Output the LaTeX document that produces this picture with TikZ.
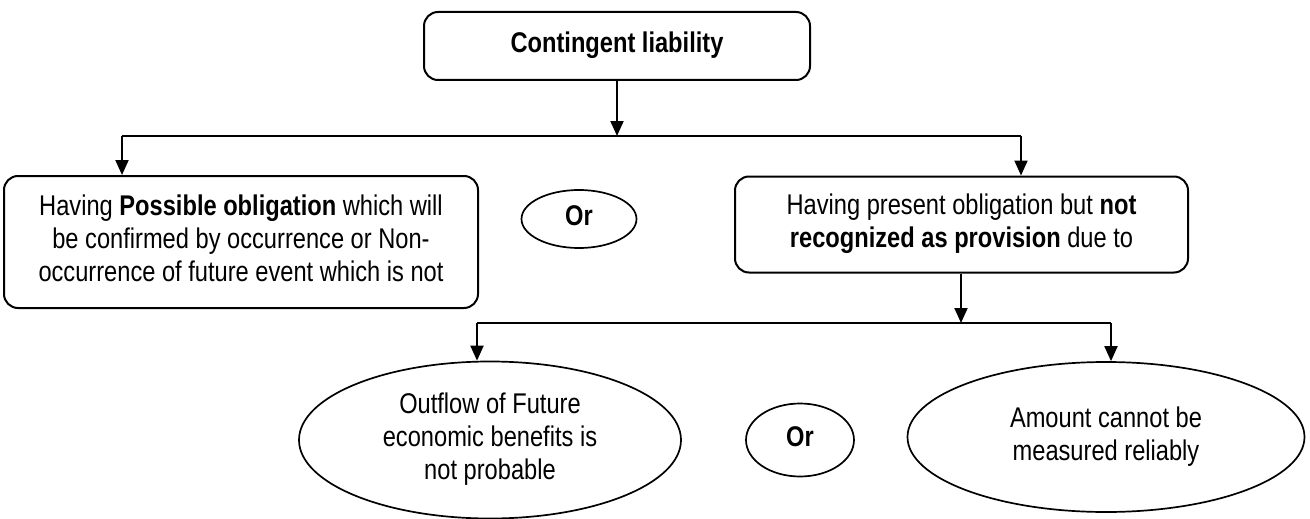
\documentclass[tikz,border=0pt]{standalone}
\usepackage{fontspec}
\usepackage{graphicx}
\setmainfont{Liberation Sans}
\usetikzlibrary{arrows.meta,shapes.geometric}
\newcommand\nartext[1]{\scalebox{0.83}[1]{\begin{tabular}{@{}c@{}}#1\end{tabular}}}
\begin{document}
\begin{tikzpicture}[x=1pt,y=-1pt,
  box/.style={draw,line width=2pt,rounded corners=14pt,align=center,inner sep=0pt},
  oval/.style={draw,ellipse,line width=1.7pt,align=center,inner sep=0pt},
  arr/.style={line width=2pt,-{Triangle[length=15pt,width=13pt]}},
  ln/.style={line width=2pt},
  every node/.style={font=\fontsize{28.5}{33.3}\selectfont}]
\useasboundingbox (0,0) rectangle (1310,519);
\node[box,minimum width=386pt,minimum height=68pt] (top) at (617,46) {\nartext{\textbf{Contingent liability}}};
\node[box,minimum width=474pt,minimum height=132pt] (left) at (241,242)
  {\nartext{Having \textbf{Possible obligation} which will\\be confirmed by occurrence or Non-\\occurrence of future event which is not}};
\node[oval,minimum width=115pt,minimum height=58pt] (or1) at (579,219) {\nartext{\textbf{Or}}};
\node[box,minimum width=453pt,minimum height=96pt] (right) at (961.5,224.5)
  {\nartext{Having present obligation but \textbf{not}\\\textbf{recognized as provision} due to}};
\node[oval,minimum width=382pt,minimum height=157pt] (e1) at (490,440)
  {\nartext{Outflow of Future\\economic benefits is\\not probable}};
\node[oval,minimum width=108pt,minimum height=73pt] (or2) at (800,440) {\nartext{\textbf{Or}}};
\node[oval,minimum width=397pt,minimum height=150pt] (e2) at (1106,437)
  {\nartext{Amount cannot be\\measured reliably}};
\coordinate (j1) at (617,136);
\coordinate (jl) at (122,136);
\coordinate (jr) at (1021,136);
\coordinate (j2) at (961,323);
\coordinate (kl) at (477,323);
\coordinate (kr) at (1111,323);
\draw[arr] (top.south) -- (j1);
\draw[ln] (jl) -- (jr);
\draw[arr] (jl) -- (jl |- left.north);
\draw[arr] (jr) -- (jr |- right.north);
\draw[arr] (right.south -| j2) -- (j2);
\draw[ln] (kl) -- (kr);
\draw[arr] (kl) -- (kl |- e1.north);
\draw[arr] (kr) -- (kr |- e2.north);
\end{tikzpicture}
\end{document}
